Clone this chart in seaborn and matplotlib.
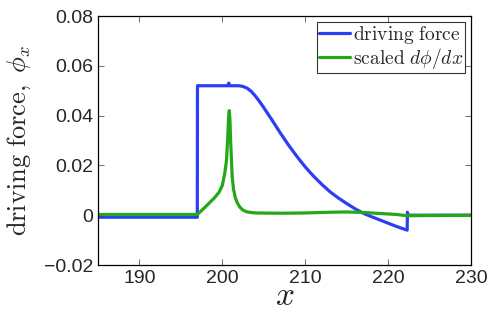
import numpy as np
import pandas as pd
import matplotlib
matplotlib.use("Agg")
import matplotlib.pyplot as plt
import seaborn as sns

# values
force_x = [185, 196.98, 197.0, 197.05, 200.7, 200.75, 200.8, 200.85, 202.0, 202.5,
           203.0, 203.5, 204.0, 204.5, 205.0, 206.0, 207.0, 208.0, 209.0, 210.0,
           211.0, 212.0, 213.0, 214.0, 215.0, 216.0, 217.0, 218.0, 219.0, 220.0,
           221.0, 222.3, 222.33, 222.4, 230]
force_y = [-0.0008, -0.0008, 0.052, 0.052, 0.052, 0.053, 0.053, 0.052, 0.052, 0.0517,
           0.0510, 0.0497, 0.0478, 0.0456, 0.0432, 0.0382, 0.0330, 0.0281, 0.0236, 0.0194,
           0.0157, 0.0124, 0.0094, 0.0069, 0.0047, 0.0026, 0.0008, -0.0006, -0.0019, -0.0032,
           -0.0045, -0.006, 0.0012, 0.0, 0.0]

dphi_x = [185, 197.0, 198.0, 199.0, 199.6, 200.0, 200.3, 200.5, 200.65, 200.75,
          200.84, 200.92, 201.0, 201.1, 201.2, 201.35, 201.55, 201.8, 202.1, 202.5,
          203.0, 204.0, 207.0, 210.0, 213.0, 215.0, 217.0, 219.0, 221.0, 222.3, 230]
dphi_y = [0.0003, 0.0003, 0.0035, 0.0068, 0.0092, 0.012, 0.017, 0.022, 0.031, 0.039,
          0.042, 0.038, 0.030, 0.022, 0.015, 0.0105, 0.0072, 0.0050, 0.0033, 0.0020,
          0.0013, 0.0009, 0.0008, 0.0009, 0.0012, 0.0013, 0.0011, 0.0007, 0.0003, -0.0002, 0.0]

yticks = [-0.02, 0, 0.02, 0.04, 0.06, 0.08]
ytick_labels = ["\u22120.02", "0", "0.02", "0.04", "0.06", "0.08"]
xticks = [190, 200, 210, 220, 230]

sns.set_theme(style="ticks")
plt.rcParams["font.family"] = ["Liberation Sans", "DejaVu Sans"]
plt.rcParams["mathtext.fontset"] = "cm"
plt.rcParams["xtick.direction"] = "in"
plt.rcParams["ytick.direction"] = "in"

df_force = pd.DataFrame({"x": force_x, "y": force_y})
df_dphi = pd.DataFrame({"x": dphi_x, "y": dphi_y})

fig = plt.figure(figsize=(4.95, 3.14), dpi=100)
ax = fig.add_axes([0.198, 0.156, 0.7535, 0.793])

sns.lineplot(data=df_force, x="x", y="y", ax=ax, sort=False, estimator=None,
             color="#2a3ff5", lw=2.3, label=r"$\mathrm{driving\ force}$")
sns.lineplot(data=df_dphi, x="x", y="y", ax=ax, sort=False, estimator=None,
             color="#25a818", lw=2.3, label=r"$\mathrm{scaled}\ d\phi/dx$")

ax.set_xlim(185, 230)
ax.set_ylim(-0.02, 0.08)
ax.set_xticks(xticks)
ax.set_yticks(yticks)
ax.set_yticklabels(ytick_labels)
ax.tick_params(labelsize=14, length=4, width=0.6, top=True, right=True, color="#555555")
for s in ax.spines.values():
    s.set_linewidth(0.9)
    s.set_color("black")

ax.set_xlabel(r"$x$", fontsize=24, labelpad=-4)
ax.set_ylabel(r"$\mathrm{driving\ force,}\ \phi_x$", fontsize=19, labelpad=8)

leg = ax.legend(loc="upper right", fontsize=14, frameon=True, fancybox=False,
                handlelength=1.6, handletextpad=0.15, borderpad=0.1, labelspacing=0.0,
                borderaxespad=0.3)
leg.get_frame().set_edgecolor("black")
leg.get_frame().set_linewidth(0.8)

fig.savefig("out.png", dpi=100)
